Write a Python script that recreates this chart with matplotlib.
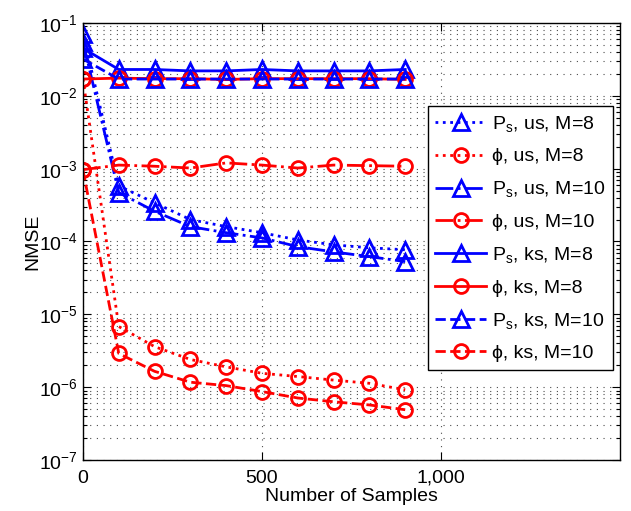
import matplotlib
matplotlib.use("Agg")
import matplotlib.pyplot as plt
import numpy as np
from matplotlib.ticker import LogLocator, NullFormatter

plt.rcParams['font.family'] = ['Liberation Sans', 'DejaVu Sans']
plt.rcParams['mathtext.fontset'] = 'custom'
plt.rcParams['mathtext.rm'] = 'Liberation Sans'
plt.rcParams['mathtext.it'] = 'Liberation Sans:italic'

# number of samples
samples = [0, 100, 200, 300, 400, 500, 600, 700, 800, 900]

# NMSE of P_s
ps_us_m8 = [7.0e-2, 5.8e-4, 3.4e-4, 2.0e-4, 1.6e-4, 1.32e-4, 1.05e-4, 9.0e-5, 8.2e-5, 7.7e-5]
ps_us_m10 = [5.5e-2, 4.7e-4, 2.6e-4, 1.6e-4, 1.32e-4, 1.12e-4, 8.5e-5, 7.2e-5, 6.2e-5, 5.3e-5]
ps_ks_m8 = [4.5e-2, 2.3e-2, 2.3e-2, 2.2e-2, 2.2e-2, 2.3e-2, 2.2e-2, 2.2e-2, 2.2e-2, 2.3e-2]
ps_ks_m10 = [3.2e-2, 1.7e-2, 1.7e-2, 1.7e-2, 1.7e-2, 1.7e-2, 1.7e-2, 1.7e-2, 1.7e-2, 1.7e-2]

# NMSE of phi
phi_us_m8 = [1.7e-2, 6.8e-6, 3.6e-6, 2.4e-6, 1.9e-6, 1.55e-6, 1.4e-6, 1.25e-6, 1.13e-6, 9.2e-7]
phi_us_m10 = [9.7e-4, 1.12e-3, 1.08e-3, 1.02e-3, 1.2e-3, 1.12e-3, 1.02e-3, 1.12e-3, 1.1e-3, 1.08e-3]
phi_ks_m8 = [1.7e-2, 1.75e-2, 1.72e-2, 1.72e-2, 1.68e-2, 1.72e-2, 1.72e-2, 1.72e-2, 1.72e-2, 1.68e-2]
phi_ks_m10 = [9.5e-4, 2.9e-6, 1.65e-6, 1.17e-6, 1.05e-6, 8.7e-7, 7.1e-7, 6.3e-7, 5.7e-7, 4.9e-7]

labels = [r'P$_\mathregular{s}$, us, M=8', 'ϕ, us, M=8',
          r'P$_\mathregular{s}$, us, M=10', 'ϕ, us, M=10',
          r'P$_\mathregular{s}$, ks, M=8', 'ϕ, ks, M=8',
          r'P$_\mathregular{s}$, ks, M=10', 'ϕ, ks, M=10']

xtick_vals = [0, 500, 1000]
xtick_labels = ['0', '500', '1,000']

fig = plt.figure(figsize=(6.31, 5.11), dpi=100)
ax = fig.add_axes([0.1315, 0.0998, 0.8511, 0.8552])

series = [ps_us_m8, phi_us_m8, ps_us_m10, phi_us_m10,
          ps_ks_m8, phi_ks_m8, ps_ks_m10, phi_ks_m10]
styles = [':', ':', '-.', '-.', '-', '-', '--', '--']
for i, (y, ls, lab) in enumerate(zip(series, styles, labels)):
    if i % 2 == 0:
        c, mk, ms = 'blue', '^', 11
    else:
        c, mk, ms = 'red', 'o', 10
    ax.plot(samples, y, linestyle=ls, color=c, marker=mk, markersize=ms,
            markerfacecolor='none', markeredgewidth=2, linewidth=2, label=lab)

ax.set_yscale('log')
ax.set_xlim(0, 1500)
ax.set_ylim(1e-7, 1e-1)
ax.set_xticks(xtick_vals)
ax.set_xticklabels(xtick_labels)
ax.yaxis.set_major_locator(LogLocator(base=10, numticks=10))
ax.yaxis.set_minor_locator(LogLocator(base=10, subs=np.arange(2, 10), numticks=10))
ax.yaxis.set_minor_formatter(NullFormatter())

ax.tick_params(axis='both', which='both', direction='in', top=True, right=True,
               labelsize=14, width=0.8)
ax.tick_params(which='major', length=6)
ax.tick_params(which='minor', length=3)
ax.tick_params(axis='x', pad=7)

ax.grid(True, which='major', linestyle=(0, (1, 5)), color='0.3', linewidth=0.8)
ax.grid(True, which='minor', axis='y', linestyle=(0, (1, 5)), color='0.3', linewidth=0.8)
for s in ax.spines.values():
    s.set_linewidth(1.0)

ax.set_xlabel('Number of Samples', fontsize=14, labelpad=1)
ax.set_ylabel('NMSE', fontsize=14)
ax.yaxis.set_label_coords(-0.078, 0.5)

leg = ax.legend(loc='upper right', bbox_to_anchor=(0.987, 0.81), borderaxespad=0,
                fontsize=14, numpoints=1, handlelength=2.6, handletextpad=0.3,
                labelspacing=0.72, fancybox=False, framealpha=1, edgecolor='black')
leg.get_frame().set_linewidth(1.0)

fig.savefig('out.png', dpi=100)
